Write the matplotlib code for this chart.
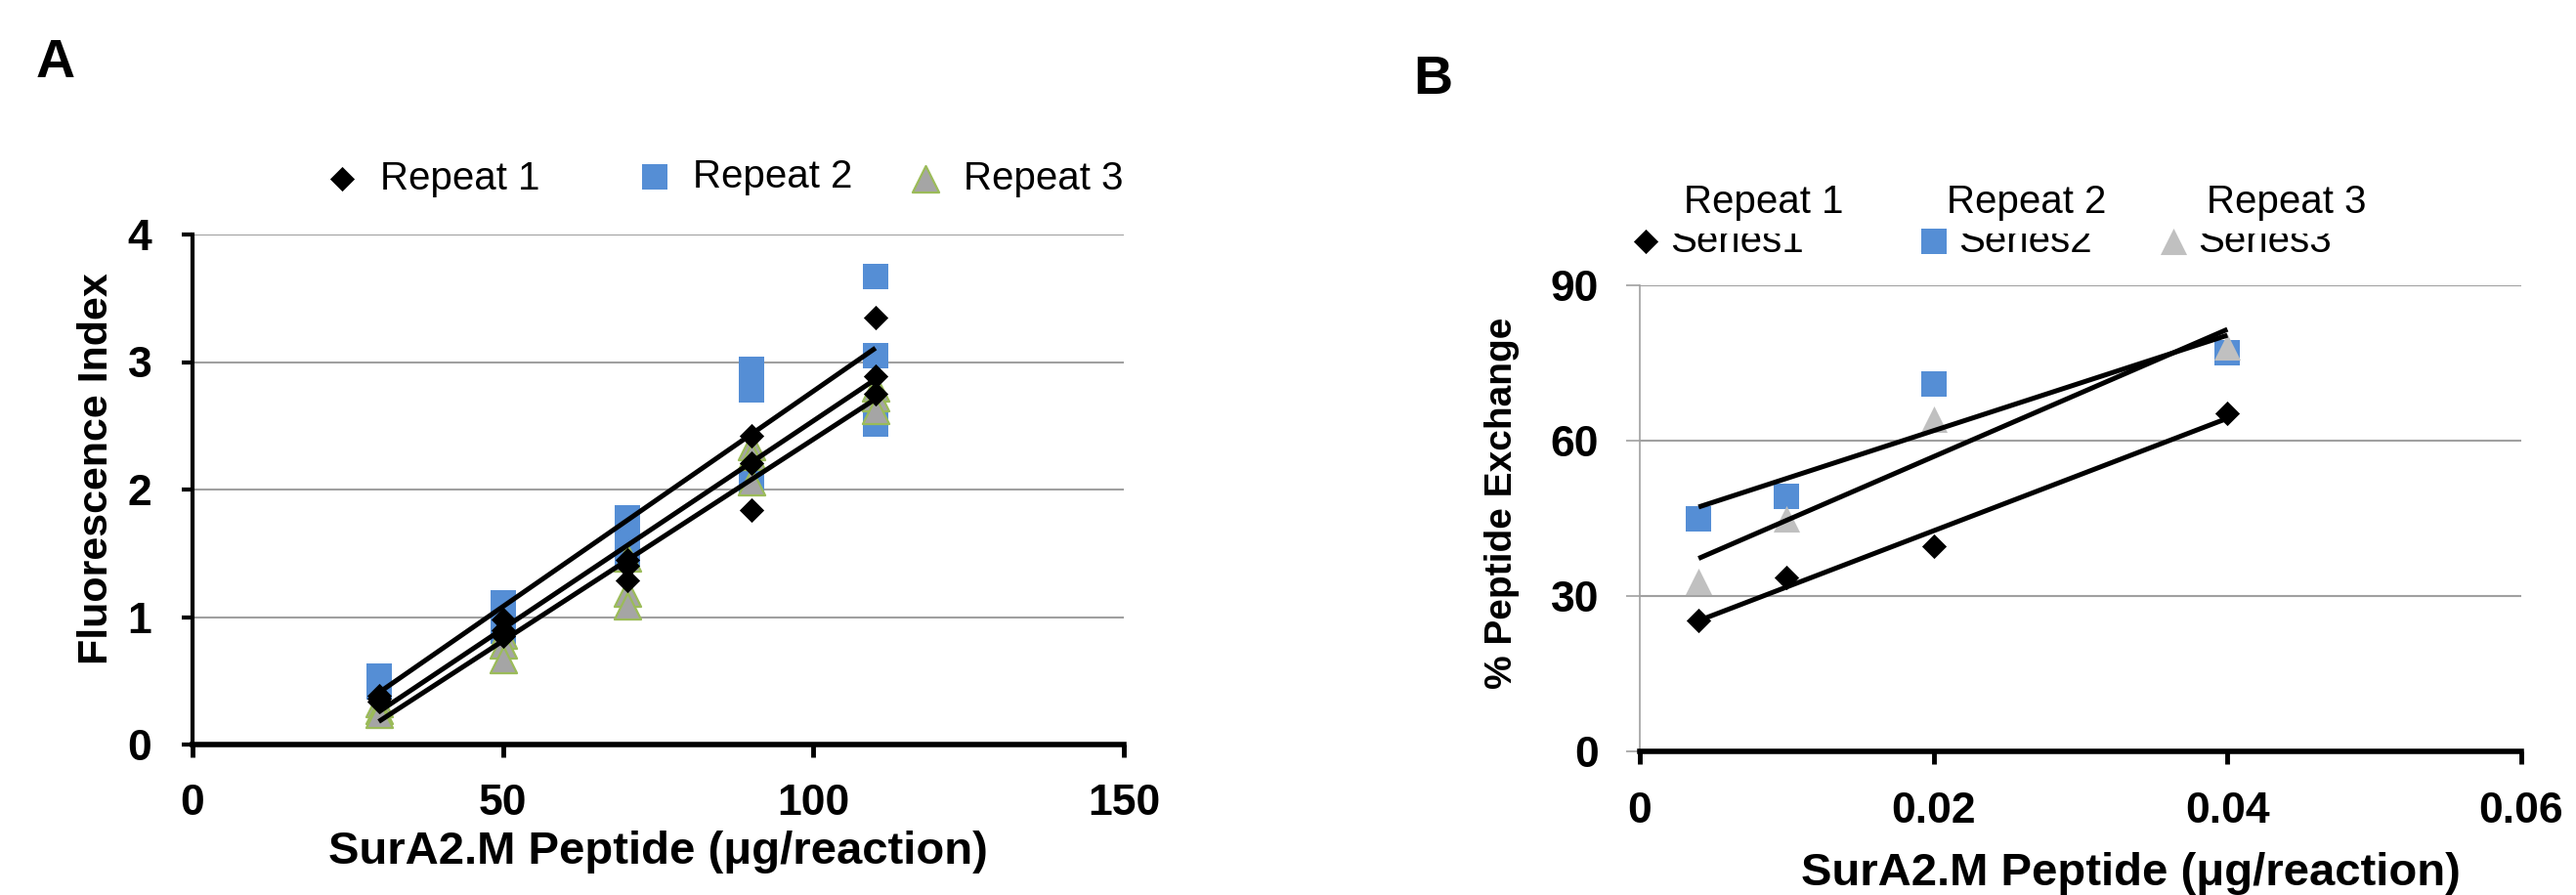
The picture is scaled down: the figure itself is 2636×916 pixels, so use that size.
import numpy as np
import matplotlib
matplotlib.use('Agg')
import matplotlib.pyplot as plt
from matplotlib.transforms import Bbox, TransformedBbox

plt.rcParams['font.family'] = ['Liberation Sans', 'DejaVu Sans']

# ---------------- Panel A data ----------------
a_conc = [30, 50, 70, 90, 110]
a_rep1 = [[0.38, 0.36, 0.34], [0.98, 0.90, 0.85], [1.45, 1.40, 1.29],
          [2.42, 2.21, 1.84], [3.35, 2.89, 2.75]]
a_rep2 = [[0.54, 0.50, 0.45], [1.11, 1.00, 0.89], [1.78, 1.58, 1.50],
          [2.94, 2.78, 2.07], [3.67, 3.05, 2.51]]
a_rep3 = [[0.32, 0.27, 0.24], [0.86, 0.78, 0.67], [1.46, 1.19, 1.09],
          [2.34, 2.26, 2.06], [2.80, 2.72, 2.62]]
a_labels = ['Repeat 1', 'Repeat 2', 'Repeat 3']
a_xticks = [0, 50, 100, 150]
a_yticks = [0, 1, 2, 3, 4]

# ---------------- Panel B data ----------------
b_conc = [0.004, 0.01, 0.02, 0.04]
b_ser1 = [25.3, 33.6, 39.7, 65.3]
b_ser2 = [45.0, 49.3, 71.0, 76.9]
b_ser3 = [32.9, 45.0, 64.2, 78.2]
b_series = ['Series1', 'Series2', 'Series3']
b_repeats = ['Repeat 1', 'Repeat 2', 'Repeat 3']
b_xticks = [0, 0.02, 0.04, 0.06]
b_xticklabels = ['0', '0.02', '0.04', '0.06']
b_yticks = [0, 30, 60, 90]

xlab = 'SurA2.M Peptide (\u03bcg/reaction)'

W, H = 2636, 916
fig = plt.figure(figsize=(W / 100, H / 100), dpi=100)

BLUE = '#558ED5'
TICKFS = 32
XLABFS = 34
LEGFS = 29


def flat(conc, reps):
    xs, ys = [], []
    for c, r in zip(conc, reps):
        for v in r:
            xs.append(c)
            ys.append(v)
    return np.array(xs, float), np.array(ys, float)


def trend(ax, x, y):
    k, b = np.polyfit(x, y, 1)
    xx = np.array([x.min(), x.max()])
    ax.plot(xx, k * xx + b, color='black', lw=3.6, zorder=5,
            solid_capstyle='butt')


# ================= Panel A =================
axA = fig.add_axes([197 / W, 1 - 762 / H, (1150 - 197) / W, (762 - 240) / H])
x1, y1 = flat(a_conc, a_rep1)
x2, y2 = flat(a_conc, a_rep2)
x3, y3 = flat(a_conc, a_rep3)
hA2 = axA.scatter(x2, y2, marker='s', s=370, color=BLUE, lw=0, zorder=3)
hA3 = axA.scatter(x3, y3, marker='^', s=380, facecolor='#a5a5a5',
                  edgecolor='#9bbb59', lw=1.6, zorder=3)
hA1 = axA.scatter(x1, y1, marker='D', s=165, color='black', lw=0, zorder=4)
for xx, yy in [(x1, y1), (x2, y2), (x3, y3)]:
    trend(axA, xx, yy)

axA.set_xlim(0, 150)
axA.set_ylim(0, 4)
axA.set_xticks(a_xticks)
axA.set_yticks(a_yticks)
axA.grid(axis='y', color='#a0a0a0', lw=1.5, zorder=0)
axA.set_axisbelow(True)
for s in ['top', 'right']:
    axA.spines[s].set_visible(False)
axA.spines['left'].set_linewidth(3)
axA.spines['bottom'].set_linewidth(4)
axA.spines['left'].set_zorder(6)
axA.spines['bottom'].set_zorder(6)
axA.tick_params(axis='x', direction='out', length=9.5, width=3.5,
                pad=19, labelsize=TICKFS)
axA.tick_params(axis='y', direction='out', length=8, width=3,
                pad=22, labelsize=TICKFS)
for t in axA.get_xticklabels() + axA.get_yticklabels():
    t.set_fontweight('bold')
axA.set_xlabel(xlab, fontsize=XLABFS, fontweight='bold')
axA.xaxis.set_label_coords((673 - 197) / 953, (762 - 884) / 522)
axA.xaxis.label.set_va('baseline')
axA.set_ylabel('Fluorescence Index', fontsize=31, fontweight='bold')
axA.yaxis.set_label_coords((99 - 197) / 953, (762 - 480) / 522)
axA.yaxis.label.set_va('center')

# legends A (one per entry)
fs_px = LEGFS * 100 / 72
for h, lab, xm, ym in [(hA1, a_labels[0], 350, 183),
                       (hA2, a_labels[1], 670, 181),
                       (hA3, a_labels[2], 947, 183)]:
    leg = fig.legend([h], [lab], loc='center left',
                     bbox_to_anchor=((xm - 0.5 * fs_px) / W, 1 - ym / H),
                     frameon=False, borderpad=0, borderaxespad=0,
                     handlelength=1.0, handletextpad=0.47, fontsize=LEGFS,
                     scatterpoints=1)

fig.text(57 / W, 1 - 65 / H, 'A', fontsize=40, fontweight='bold',
         ha='center', va='center')

# ================= Panel B =================
axB = fig.add_axes([1678 / W, 1 - 769 / H, (2580 - 1678) / W, (769 - 292) / H])
bx = np.array(b_conc, float)
hB2 = axB.scatter(bx, b_ser2, marker='s', s=360, color=BLUE, lw=0, zorder=3)
hB3 = axB.scatter(bx, b_ser3, marker='^', s=380, color='#c0c0c0', lw=0,
                  zorder=3)
hB1 = axB.scatter(bx, b_ser1, marker='D', s=165, color='black', lw=0,
                  zorder=4)
for yy in [b_ser1, b_ser2, b_ser3]:
    trend(axB, bx, np.array(yy, float))

axB.set_xlim(0, 0.06)
axB.set_ylim(0, 90)
axB.set_xticks(b_xticks)
axB.set_xticklabels(b_xticklabels)
axB.set_yticks(b_yticks)
axB.grid(axis='y', color='#a0a0a0', lw=1.5, zorder=0)
axB.set_axisbelow(True)
for s in ['top', 'right']:
    axB.spines[s].set_visible(False)
axB.spines['left'].set_linewidth(1.2)
axB.spines['left'].set_color('#a0a0a0')
axB.spines['bottom'].set_linewidth(4)
axB.spines['bottom'].set_zorder(6)
axB.tick_params(axis='x', direction='out', length=9.5, width=3.5,
                pad=20, labelsize=TICKFS)
axB.tick_params(axis='y', direction='out', length=10, width=1.2,
                color='#a0a0a0', pad=20, labelsize=TICKFS)
for t in axB.get_xticklabels() + axB.get_yticklabels():
    t.set_fontweight('bold')
axB.set_xlabel(xlab, fontsize=XLABFS, fontweight='bold')
axB.xaxis.set_label_coords((2180 - 1678) / 902, (769 - 906) / 477)
axB.xaxis.label.set_va('baseline')
axB.set_ylabel('% Peptide Exchange', fontsize=28, fontweight='bold')
axB.yaxis.set_label_coords((1537 - 1678) / 902, (769 - 515) / 477)
axB.yaxis.label.set_va('center')

clip = TransformedBbox(Bbox([[0, 0], [1, 1 - 239 / H]]), fig.transFigure)
for h, lab, xm in [(hB1, b_series[0], 1684),
                   (hB2, b_series[1], 1979),
                   (hB3, b_series[2], 2224)]:
    leg = fig.legend([h], [lab], loc='center left',
                     bbox_to_anchor=((xm - 0.5 * fs_px) / W, 1 - 247 / H),
                     frameon=False, borderpad=0, borderaxespad=0,
                     handlelength=1.0, handletextpad=0.12, fontsize=LEGFS,
                     scatterpoints=1)
    for t in leg.get_texts():
        t.set_clip_box(clip)
        t.set_clip_on(True)

for lab, xr in zip(b_repeats, [1723, 1992, 2258]):
    fig.text(xr / W, 1 - 207 / H, lab, fontsize=LEGFS, ha='left',
             va='center')

fig.text(1466 / W, 1 - 82 / H, 'B', fontsize=40, fontweight='bold',
         ha='center', va='center')

fig.savefig('out.png', dpi=100)
